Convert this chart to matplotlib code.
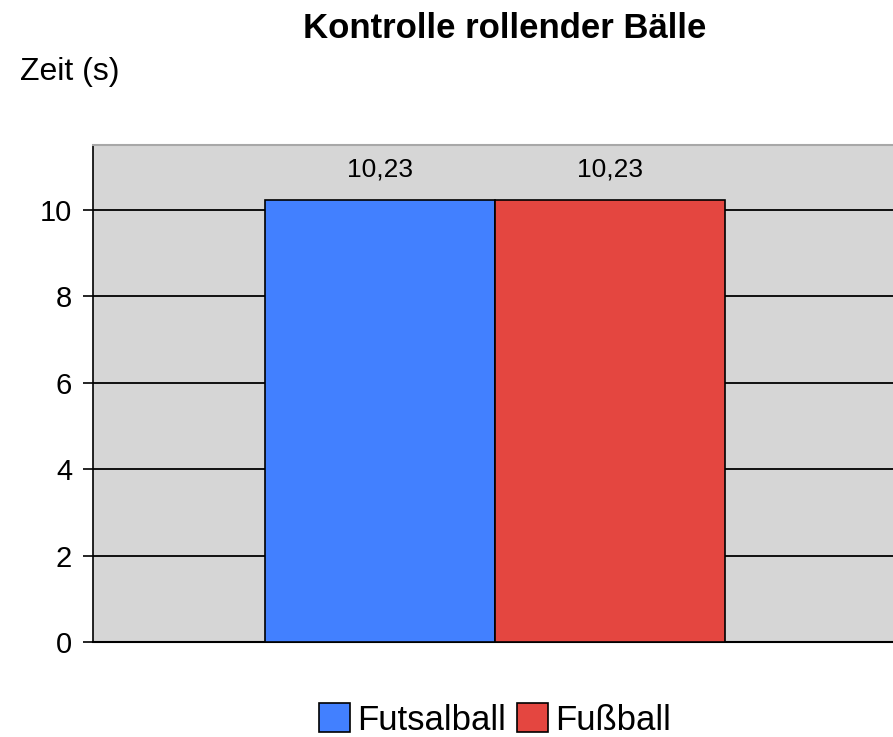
import matplotlib.pyplot as plt

# data
categories = ['Kontrolle']
series = ['Futsalball', 'Fußball']
values = [10.23, 10.23]
colors = ['#4280ff', '#e44640']

plt.rcParams['font.family'] = ['Liberation Sans', 'DejaVu Sans']

fig = plt.figure(figsize=(8.93, 7.37), dpi=100)
W, H = 893, 737
ax = fig.add_axes([93 / W, (H - 642) / H, 804 / W, (642 - 145) / H])
ax.set_facecolor('#d6d6d6')

width = 0.4
offsets = [-width / 2, width / 2]
for i, (s, v, c) in enumerate(zip(series, values, colors)):
    ax.bar(0 + offsets[i], v, width, color=c, edgecolor='black', linewidth=1.2,
           label=s, zorder=3)
    ax.text(0 + offsets[i], v + 0.42, ('%.2f' % v).replace('.', ','),
            ha='center', va='bottom', fontsize=19, zorder=4)

ax.set_xlim(-0.7, 0.7)
ax.set_ylim(0, 11.5)
ax.set_yticks([0, 2, 4, 6, 8, 10])
ax.set_yticklabels(['0', '2', '4', '6', '8', '10'], fontsize=21)
ax.yaxis.grid(True, color='black', linewidth=1.3, zorder=1)
ax.set_axisbelow(True)
ax.set_xticks([])
ax.tick_params(axis='y', length=7, width=1.2, pad=8)
ax.spines['right'].set_visible(False)
ax.spines['top'].set_color('#a8a8a8')
ax.spines['top'].set_linewidth(1.5)
ax.spines['left'].set_linewidth(1.2)
ax.spines['bottom'].set_linewidth(1.5)

fig.text(505 / W, 1 - 28 / H, 'Kontrolle rollender Bälle', ha='center', va='center',
         fontsize=25, fontweight='bold')
fig.text(20 / W, 1 - 72 / H, 'Zeit (s)', ha='left', va='center', fontsize=23)

fig.legend(loc='center', bbox_to_anchor=(495 / W, 1 - 720 / H), ncol=2, frameon=False,
           fontsize=25, handlelength=0.9, handleheight=0.9, handletextpad=0.2,
           columnspacing=0.3, borderpad=0)

fig.savefig('out.png', dpi=100)
